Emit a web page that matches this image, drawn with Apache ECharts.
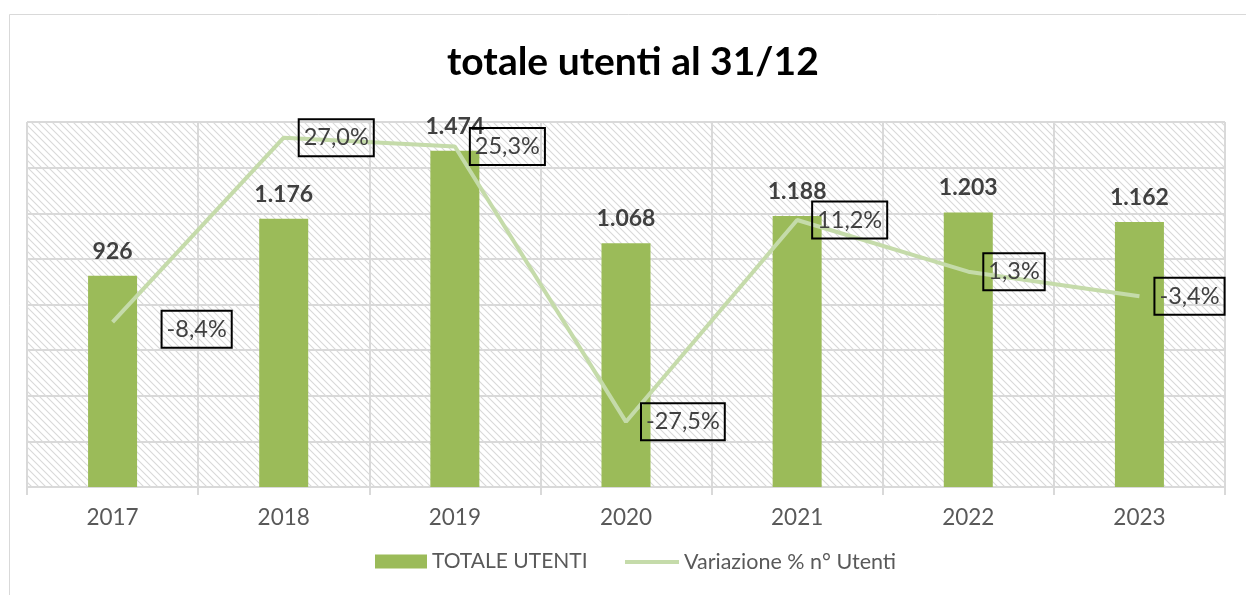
<!DOCTYPE html>
<html>
<head>
<meta charset="utf-8">
<script src="https://cdn.jsdelivr.net/npm/echarts@6/dist/echarts.min.js"></script>
<style>
    html, body { margin: 0; padding: 0; background: #fff; }
    #chart { width: 1246px; height: 595px; }
</style>
</head>
<body>
<div id="chart"></div>
<script>
const years = ['2017', '2018', '2019', '2020', '2021', '2022', '2023']
const totaleUtenti = [926, 1176, 1474, 1068, 1188, 1203, 1162]
const variazione = [-8.4, 27.0, 25.3, -27.5, 11.2, 1.3, -3.4]

const FONT = 'Lato'

// diagonal hatch used for the plot background
function makeHatch() {
    const c = document.createElement('canvas')
    const s = 7
    c.width = s
    c.height = s
    const ctx = c.getContext('2d')
    ctx.fillStyle = '#fff'
    ctx.fillRect(0, 0, s, s)
    ctx.strokeStyle = '#d9d9d9'
    ctx.lineWidth = 1.1
    ctx.beginPath()
    ctx.moveTo(-1, -1); ctx.lineTo(s + 1, s + 1)
    ctx.moveTo(-1, s - 1); ctx.lineTo(1, s + 1)
    ctx.moveTo(s - 1, -1); ctx.lineTo(s + 1, 1)
    ctx.stroke()
    return c
}

function fmtThousands(v) {
    return String(v).replace(/\B(?=(\d{3})+(?!\d))/g, '.')
}

function fmtPct(v) {
    return v.toFixed(1).replace('.', ',') + '%'
}

const chart = echarts.init(document.getElementById('chart'))

const lineData = variazione.map((v, i) => {
    if (i === 0) return { value: v, label: { offset: [34, 7] } }
    return v
})

const option = {
    backgroundColor: '#fff',
    animation: false,
    title: {
        text: 'totale utenti al 31/12',
        left: 447,
        top: 43,
        padding: 0,
        textStyle: { fontFamily: FONT, fontSize: 39, fontWeight: 'bold', color: '#000' }
    },
    graphic: [{
        type: 'rect',
        shape: { x: 9.5, y: 14.5, width: 1400, height: 800 },
        style: { fill: null, stroke: '#d9d9d9', lineWidth: 1 },
        silent: true
    }],
    legend: [
        {
            data: ['TOTALE UTENTI'],
            left: 375,
            top: 551,
            padding: 0,
            icon: 'rect',
            itemWidth: 52,
            itemHeight: 14,
            textStyle: { fontFamily: FONT, fontSize: 21, color: '#595959' }
        },
        {
            data: ['Variazione % n° Utenti'],
            left: 625,
            top: 551,
            padding: 0,
            icon: 'rect',
            itemWidth: 54,
            itemHeight: 4,
            textStyle: { fontFamily: FONT, fontSize: 21.5, color: '#595959' }
        }
    ],
    grid: {
        left: 27,
        right: 21,
        top: 122,
        bottom: 108,
        show: true,
        backgroundColor: { image: makeHatch(), repeat: 'repeat' },
        borderColor: '#d9d9d9',
        borderWidth: 1
    },
    xAxis: {
        type: 'category',
        data: years,
        axisLine: { lineStyle: { color: '#d9d9d9', width: 2 } },
        axisTick: { show: true, length: 8, lineStyle: { color: '#d9d9d9', width: 2 } },
        axisLabel: { fontFamily: FONT, fontSize: 22.5, color: '#595959', margin: 19 },
        splitLine: { show: true, lineStyle: { color: '#d9d9d9', width: 2 } }
    },
    yAxis: [
        {
            type: 'value',
            min: 0,
            max: 1600,
            interval: 200,
            axisLabel: { show: false },
            axisLine: { show: false },
            axisTick: { show: false },
            splitLine: { show: true, lineStyle: { color: '#d9d9d9', width: 2 } }
        },
        {
            type: 'value',
            min: -40,
            max: 30,
            interval: 10,
            axisLabel: { show: false },
            axisLine: { show: false },
            axisTick: { show: false },
            splitLine: { show: false }
        }
    ],
    series: [
        {
            name: 'TOTALE UTENTI',
            type: 'bar',
            data: totaleUtenti,
            barWidth: 49,
            itemStyle: { color: '#9bbb59' },
            label: {
                show: true,
                position: 'top',
                distance: 13,
                formatter: p => fmtThousands(p.value),
                fontFamily: FONT,
                fontSize: 23,
                fontWeight: 'bold',
                color: '#404040'
            }
        },
        {
            name: 'Variazione % n° Utenti',
            type: 'line',
            yAxisIndex: 1,
            data: lineData,
            symbol: 'circle',
            symbolSize: 0,
            itemStyle: { color: '#c5dbaa' },
            lineStyle: { color: '#c5dbaa', width: 4 },
            label: {
                show: true,
                position: 'right',
                distance: 15,
                formatter: p => fmtPct(p.value),
                fontFamily: FONT,
                fontSize: 23.5,
                color: '#404040',
                borderColor: '#000',
                borderWidth: 2,
                padding: [7, 5, 6, 5]
            }
        }
    ]
}

chart.setOption(option)
</script>
</body>
</html>
